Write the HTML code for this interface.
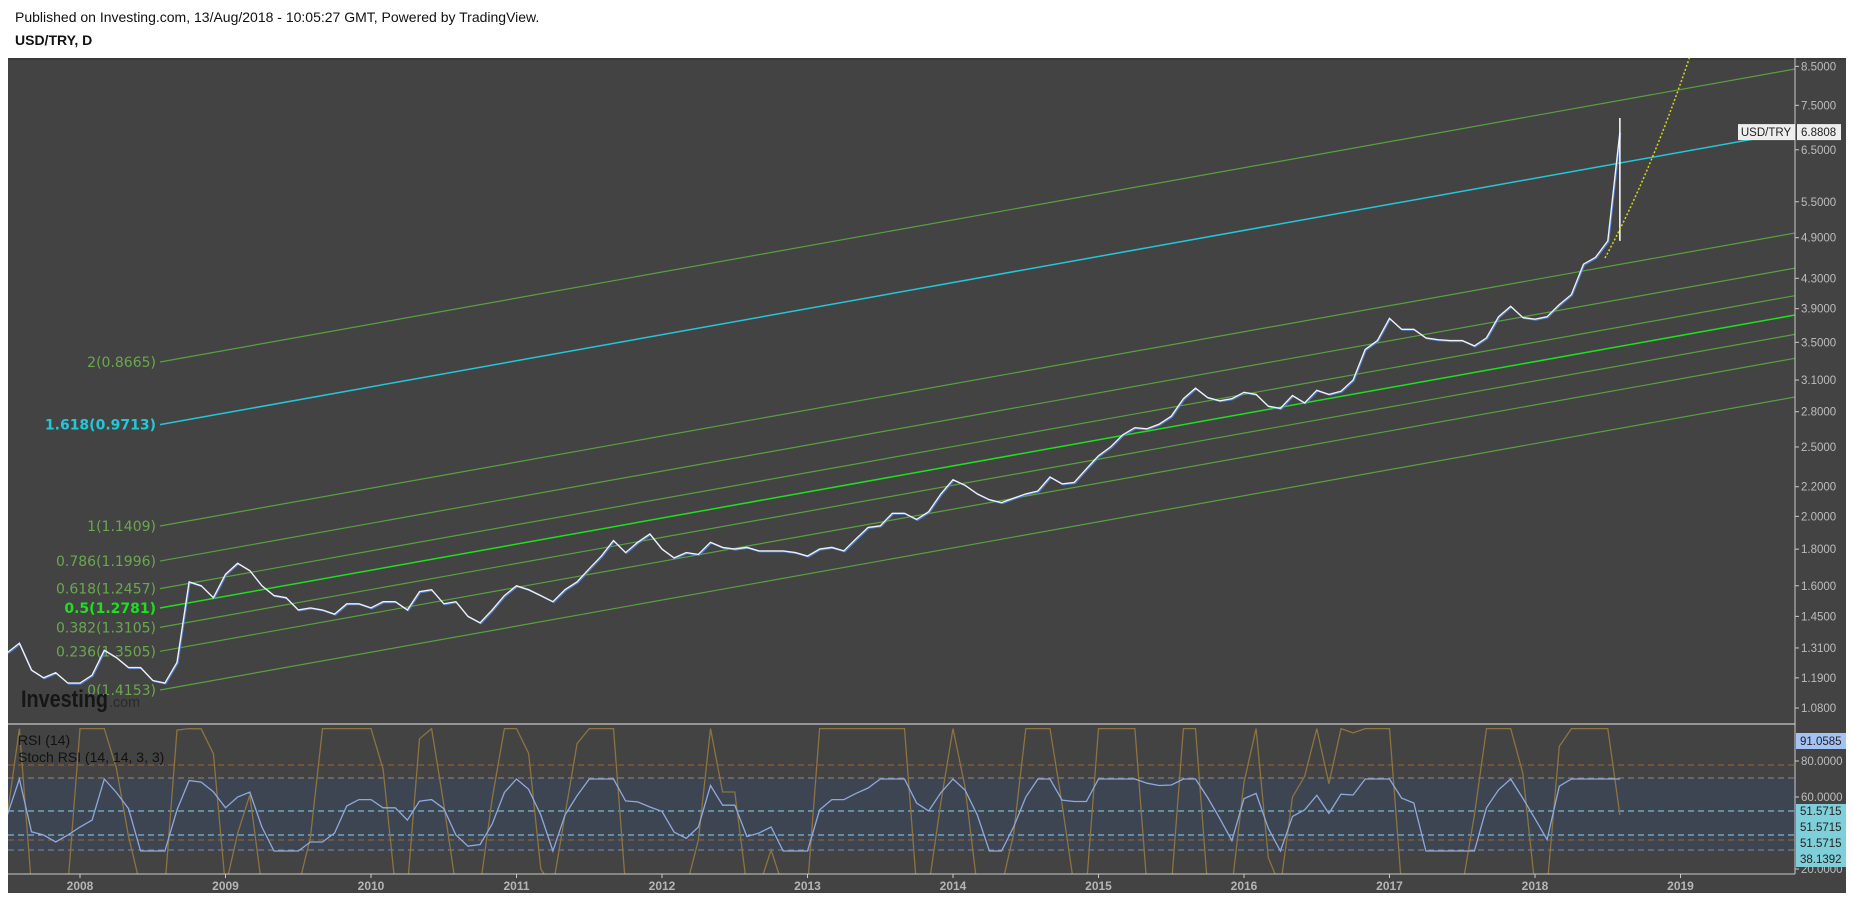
<!DOCTYPE html>
<html><head><meta charset="utf-8">
<style>
html,body{margin:0;padding:0;background:#fff;}
body{width:1853px;height:898px;position:relative;overflow:hidden;font-family:"Liberation Sans",sans-serif;}
#hdr1{position:absolute;left:15px;top:9px;font-size:14px;color:#111;}
#hdr2{position:absolute;left:15px;top:32px;font-size:14px;font-weight:bold;color:#111;}
svg{position:absolute;left:0;top:0;}
</style></head><body>
<div id="hdr1">Published on Investing.com, 13/Aug/2018 - 10:05:27 GMT, Powered by TradingView.</div>
<div id="hdr2">USD/TRY, D</div>
<svg id="chart" width="1853" height="898"></svg>
<script>
// ---- data ----
const startYear = 2007.5;
const closes = [1.29,1.33,1.22,1.19,1.21,1.17,
1.17,1.20,1.30,1.27,1.23,1.23,1.18,1.17,1.25,1.62,1.60,1.54,
1.66,1.72,1.68,1.60,1.55,1.54,1.48,1.49,1.48,1.46,1.51,1.51,
1.49,1.52,1.52,1.48,1.57,1.58,1.51,1.52,1.45,1.42,1.48,1.55,
1.60,1.58,1.55,1.52,1.58,1.62,1.69,1.76,1.85,1.78,1.84,1.89,
1.80,1.75,1.78,1.77,1.84,1.81,1.80,1.81,1.79,1.79,1.79,1.78,
1.76,1.80,1.81,1.79,1.86,1.93,1.94,2.02,2.02,1.98,2.03,2.15,
2.25,2.21,2.15,2.11,2.09,2.12,2.15,2.17,2.27,2.22,2.23,2.33,
2.43,2.50,2.60,2.66,2.65,2.69,2.76,2.92,3.02,2.93,2.90,2.92,
2.98,2.96,2.85,2.83,2.95,2.88,3.00,2.96,2.99,3.10,3.42,3.52,
3.78,3.65,3.65,3.55,3.53,3.52,3.52,3.46,3.55,3.80,3.93,3.79,
3.77,3.80,3.95,4.08,4.50,4.60,4.85,6.88];
const priceTicks = [8.5,7.5,6.5,5.5,4.9,4.3,3.9,3.5,3.1,2.8,2.5,2.2,2.0,1.8,1.6,1.45,1.31,1.19,1.08];
const yearLabels = [2008,2009,2010,2011,2012,2013,2014,2015,2016,2017,2018,2019];
const fibLevels = [0,0.236,0.382,0.5,0.618,0.786,1,1.618,2];
const fibValues = ["1.4153","1.3505","1.3105","1.2781","1.2457","1.1996","1.1409","0.9713","0.8665"];
const lastPrice = 6.8808;
const rsiTicks = [80,60,20];

// ---- axes ----
const X0=8, XR=1795, YT=58, YM=724, YB=874;
const xOf = t => 80 + (t-2008)*145.5;
const yOf = v => 708 - (Math.log(v)-Math.log(1.08))*311;
const yR = v => 869 - (v-20)*1.8;
const NS="http://www.w3.org/2000/svg";
const svg=document.getElementById('chart');
function mk(tag,attrs,parent){const e=document.createElementNS(NS,tag);for(const k in attrs)e.setAttribute(k,attrs[k]);(parent||svg).appendChild(e);return e;}

const bg=mk('rect',{x:X0,y:YT,width:1846-X0,height:893-YT,fill:'#434343'});


mk('rect',{x:X0,y:YT,width:1846-X0,height:2,fill:'#3a3a3a'});

const defs=mk('defs',{});
const cp=mk('clipPath',{id:'mainclip'},defs);
mk('rect',{x:X0,y:YT,width:XR-X0,height:YM-YT},cp);
const cp2=mk('clipPath',{id:'rsiclip'},defs);
mk('rect',{x:X0,y:YM,width:XR-X0,height:YB-YM},cp2);
const gMain=mk('g',{'clip-path':'url(#mainclip)'});
const gRsi=mk('g',{'clip-path':'url(#rsiclip)'});

// fib channel
const slope=-0.1792, fx0=160;
fibLevels.forEach((lv,i)=>{
  const y0=690-lv*164, y1=y0+slope*(XR-fx0);
  const col = lv===1.618?'#22c8d8':(lv===0.5?'#1ee01e':'#5aa040');
  const ln=mk('line',{x1:fx0,y1:y0,x2:XR,y2:y1,stroke:col,'stroke-width':lv===0.5||lv===1.618?1.5:1.2},gMain);
  
  
  const tx=mk('text',{x:fx0-4,y:y0+5,'text-anchor':'end','font-size':14,fill:col==='#5aa040'?'#6aa84f':col,'font-weight':(lv===0.5||lv===1.618)?'bold':'normal','font-family':'DejaVu Sans, sans-serif'},gMain);
  tx.textContent=lv+'('+fibValues[i]+')';
  
  
});

// logo
const logo=mk('text',{x:21,y:707,'font-size':24,'font-weight':'bold',fill:'#161616',textLength:87,lengthAdjust:'spacingAndGlyphs','font-family':'Liberation Sans, sans-serif'},gMain);
logo.textContent='Investing';


const logo2=mk('text',{x:109,y:707,'font-size':15,fill:'#2a2a2a',textLength:31,lengthAdjust:'spacingAndGlyphs'},gMain);
logo2.textContent='.com';



// price line
let pts=closes.map((c,i)=>xOf(startYear+i/12).toFixed(1)+','+yOf(c).toFixed(1));
const pl2=mk('polyline',{points:pts.join(' '),fill:'none',stroke:'#4a7fd8','stroke-width':1,transform:'translate(1,1)'},gMain);


const pl=mk('polyline',{points:pts.join(' '),fill:'none',stroke:'#eef0f8','stroke-width':1.4},gMain);


const lx=xOf(startYear+(closes.length-1)/12);
const wick=mk('line',{x1:lx,y1:yOf(7.2),x2:lx,y2:yOf(closes[closes.length-2]),stroke:'#fff','stroke-width':1.5},gMain);



const yc=mk('path',{d:'M1605,258 Q1650,175 1690,56',fill:'none',stroke:'#d6d61a','stroke-width':1.5,'stroke-dasharray':'2,2'},gMain);



// price axis
mk('line',{x1:XR,y1:YT,x2:XR,y2:YB,stroke:'#c8c8c8','stroke-width':1});
mk('line',{x1:X0,y1:YM,x2:XR,y2:YM,stroke:'#c8c8c8','stroke-width':1.2});
mk('line',{x1:X0,y1:YB,x2:XR,y2:YB,stroke:'#c8c8c8','stroke-width':1});
const FS=11.5;
priceTicks.forEach(v=>{
  const y=yOf(v);
  mk('line',{x1:XR,y1:y,x2:XR+4,y2:y,stroke:'#c8c8c8'});
  const t=mk('text',{x:XR+6,y:y+4,'font-size':FS,fill:'#bdbdbd'});
  t.textContent=v.toFixed(4);
  
  
});
const ly=yOf(lastPrice);
mk('rect',{x:1738,y:ly-8,width:57,height:16,fill:'#eeeeee'});
const t1=mk('text',{x:1766,y:ly+4,'font-size':FS,fill:'#222','text-anchor':'middle'});t1.textContent='USD/TRY';


mk('rect',{x:XR+2,y:ly-8,width:44,height:16,fill:'#eeeeee'});
const t2=mk('text',{x:XR+6,y:ly+4,'font-size':FS,fill:'#222'});t2.textContent=lastPrice.toFixed(4);



// RSI panel
mk('rect',{x:X0,y:yR(70),width:XR-X0,height:yR(30)-yR(70),fill:'#3d4552'},gRsi);
[778,850].forEach(y=>mk('line',{x1:X0,y1:y,x2:XR,y2:y,stroke:'#8a8a8a','stroke-dasharray':'6,4'},gRsi));
[765,840].forEach(y=>mk('line',{x1:X0,y1:y,x2:XR,y2:y,stroke:'#a0652a','stroke-dasharray':'6,4'},gRsi));
[811,835].forEach(y=>mk('line',{x1:X0,y1:y,x2:XR,y2:y,stroke:'#8fd2ea','stroke-dasharray':'6,4'},gRsi));

const P=3;const rsi=[];
for(let i=0;i<closes.length;i++){
  let g=0,l=0;
  for(let j=Math.max(1,i-P+1);j<=i;j++){const d=closes[j]-closes[j-1];if(d>0)g+=d;else l-=d;}
  rsi.push(g+l===0?50:100*g/(g+l));
}
const stoch=rsi.map((r,i)=>{const w=rsi.slice(Math.max(0,i-4),i+1);const mn=Math.min(...w),mx=Math.max(...w);return mx===mn?50:100*(r-mn)/(mx-mn);});
const rsiV=rsi.map(r=>30+r*0.4);
const st=mk('polyline',{points:stoch.map((v,i)=>xOf(startYear+i/12).toFixed(1)+','+yR(Math.max(10,Math.min(98,v))).toFixed(1)).join(' '),fill:'none',stroke:'#8c7340','stroke-width':1.3},gRsi);


const rl=mk('polyline',{points:rsiV.map((v,i)=>xOf(startYear+i/12).toFixed(1)+','+yR(v).toFixed(1)).join(' '),fill:'none',stroke:'#8fa8dc','stroke-width':1.3},gRsi);


const r1=mk('text',{x:18,y:745,'font-size':14,fill:'#111'});r1.textContent='RSI (14)';


const r2=mk('text',{x:18,y:762,'font-size':14,fill:'#111'});r2.textContent='Stoch RSI (14, 14, 3, 3)';



rsiTicks.forEach(v=>{
  const y=yR(v);
  mk('line',{x1:XR,y1:y,x2:XR+4,y2:y,stroke:'#c8c8c8'});
  const t=mk('text',{x:XR+6,y:y+4,'font-size':FS,fill:'#bdbdbd'});t.textContent=v.toFixed(4);
  
  
});
mk('rect',{x:XR+1,y:733,width:50,height:16,fill:'#a4c2f4'});
const rv=mk('text',{x:XR+5,y:745,'font-size':FS,fill:'#222'});rv.textContent='91.0585';


mk('rect',{x:XR+1,y:804,width:50,height:63,fill:'#7fcfdb'});
[[815,'51.5715'],[831,'51.5715'],[847,'51.5715'],[863,'38.1392']].forEach(a=>{
  const t=mk('text',{x:XR+5,y:a[0],'font-size':FS,fill:'#222'});t.textContent=a[1];
  
  
});

yearLabels.forEach(yr=>{
  const x=xOf(yr);
  mk('line',{x1:x,y1:YB,x2:x,y2:YB+4,stroke:'#c8c8c8'});
  const t=mk('text',{x:x,y:890,'font-size':12,'font-weight':'bold',fill:'#b5b5b5','text-anchor':'middle'});
  t.textContent=yr;
  
  
});
</script>
</body></html>
